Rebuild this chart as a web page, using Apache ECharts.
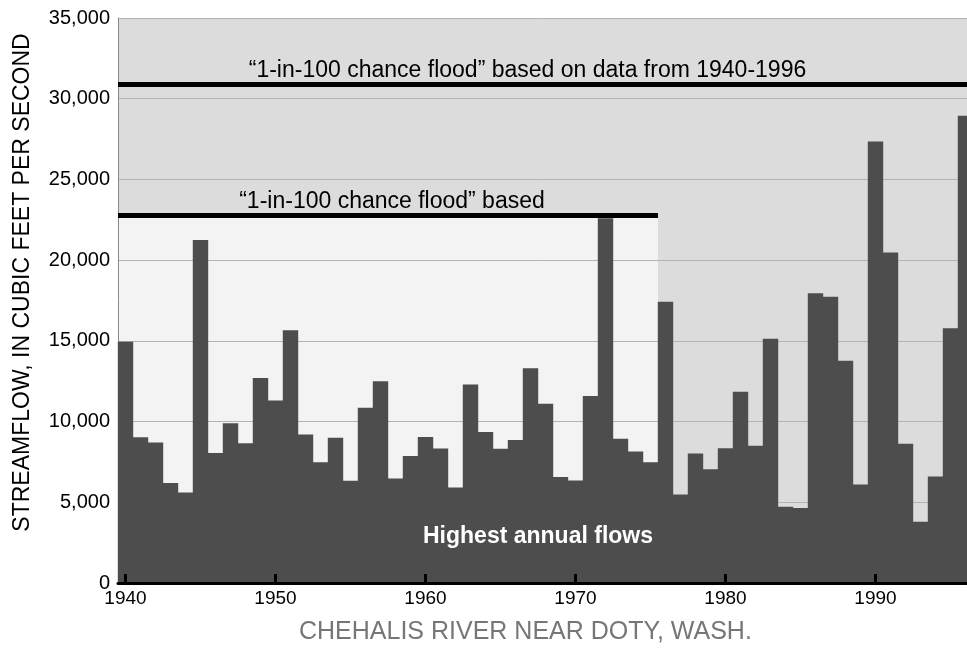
<!DOCTYPE html>
<html>
<head>
<meta charset="utf-8">
<script src="https://cdn.jsdelivr.net/npm/echarts@6/dist/echarts.min.js"></script>
<style>
html,body{margin:0;padding:0;background:#fff;}
#chart{width:967px;height:650px;}
</style>
</head>
<body>
<div id="chart"></div>
<script>
// ---- data ----
const years = [1940,1941,1942,1943,1944,1945,1946,1947,1948,1949,
               1950,1951,1952,1953,1954,1955,1956,1957,1958,1959,
               1960,1961,1962,1963,1964,1965,1966,1967,1968,1969,
               1970,1971,1972,1973,1974,1975,1976,1977,1978,1979,
               1980,1981,1982,1983,1984,1985,1986,1987,1988,1989,
               1990,1991,1992,1993,1994,1995,1996];
const flows = [14940,9030,8700,6200,5600,21250,8050,9900,8650,12700,
               11300,15650,9200,7480,9000,6330,10850,12500,6470,7860,
               9050,8330,5920,12300,9350,8320,8860,13300,11100,6560,
               6350,11580,22600,8940,8150,7480,17420,5480,8020,7050,
               8340,11850,8500,15130,4720,4650,17950,17740,13770,6100,
               27350,20470,8620,3800,6600,15780,28950];
const xTickYears = [1940,1950,1960,1970,1980,1990];
const yTicks = [0,5000,10000,15000,20000,25000,30000,35000];
const earlyPeriod = [1940, 1975];
const floodEarly = 22800;   // 1-in-100 based on 1940-1975
const floodFull = 30900;    // 1-in-100 based on 1940-1996
const floodFullLabel = '\u201c1-in-100 chance flood\u201d based on data from 1940-1996';
const floodEarlyLabel = '\u201c1-in-100 chance flood\u201d based';
const barLabel = 'Highest annual flows';
const yTitle = 'STREAMFLOW, IN CUBIC FEET PER SECOND';
const caption = 'CHEHALIS RIVER NEAR DOTY, WASH.';

// ---- chart ----
const FONT = '"Liberation Sans", Arial, Helvetica, sans-serif';
const xMin = years[0] - 0.5;
const xMax = years[years.length - 1] + 0.1;
const yMax = yTicks[yTicks.length - 1];

const chart = echarts.init(document.getElementById('chart'), null, {renderer: 'canvas'});
chart.setOption({
  animation: false,
  backgroundColor: '#ffffff',
  grid: {left: 118, right: 0, top: 18, bottom: 67, containLabel: false},
  xAxis: {
    type: 'value', min: xMin, max: xMax, z: 4,
    axisLine: {show: true, onZero: false, lineStyle: {color: '#000', width: 3}},
    axisTick: {show: true, inside: true, length: 9, customValues: xTickYears,
               lineStyle: {color: '#000', width: 3}},
    axisLabel: {show: true, customValues: xTickYears, color: '#000', fontSize: 19,
                fontFamily: FONT, margin: 6, formatter: v => String(v)},
    splitLine: {show: false}
  },
  yAxis: {
    type: 'value', min: 0, max: yMax, interval: 5000, z: 2,
    name: yTitle, nameLocation: 'middle', nameRotate: 90, nameGap: 84,
    nameTextStyle: {color: '#000', fontSize: 23, fontFamily: FONT, padding: [0, 0, 0, 36]},
    axisLine: {show: true, lineStyle: {color: '#8a8a8a', width: 1}},
    axisTick: {show: false},
    axisLabel: {color: '#000', fontSize: 20, fontFamily: FONT, margin: 8,
                formatter: v => v.toLocaleString('en-US')},
    splitLine: {show: true, lineStyle: {color: '#b3b3b3', width: 1}}
  },
  series: [{
    type: 'bar', z: 3, clip: true,
    barWidth: 15.4,
    itemStyle: {color: '#4d4d4d'},
    data: years.map((y, i) => [y, flows[i]]),
    markArea: {
      silent: true, z: 1,
      data: [
        [{coord: [xMin, 0], itemStyle: {color: '#dddcdd'}}, {coord: [xMax, yMax]}],
        [{coord: [xMin, 0], itemStyle: {color: '#f3f3f3'}}, {coord: [earlyPeriod[1] + 0.5, floodEarly]}]
      ]
    },
    markLine: {
      silent: true, symbol: ['none', 'none'], z: 5,
      lineStyle: {color: '#000', width: 5, type: 'solid'},
      label: {show: true, position: 'insideMiddleTop', formatter: '{b}', color: '#000',
              fontSize: 23, fontFamily: FONT, distance: 2},
      data: [
        [{name: floodFullLabel, coord: [xMin, floodFull], label: {offset: [-15, 0]}}, {coord: [xMax, floodFull]}],
        [{name: floodEarlyLabel, coord: [xMin, floodEarly], label: {offset: [4, 0]}}, {coord: [earlyPeriod[1] + 0.5, floodEarly]}]
      ]
    }
  }],
  graphic: [
    {type: 'text', z: 10, left: 423, top: 525,
     style: {text: barLabel, fill: '#fff', font: 'bold 23px ' + FONT}},
    {type: 'text', z: 10, left: 299, top: 620,
     style: {text: caption, fill: '#767676', font: '25px ' + FONT}}
  ]
});
</script>
</body>
</html>
